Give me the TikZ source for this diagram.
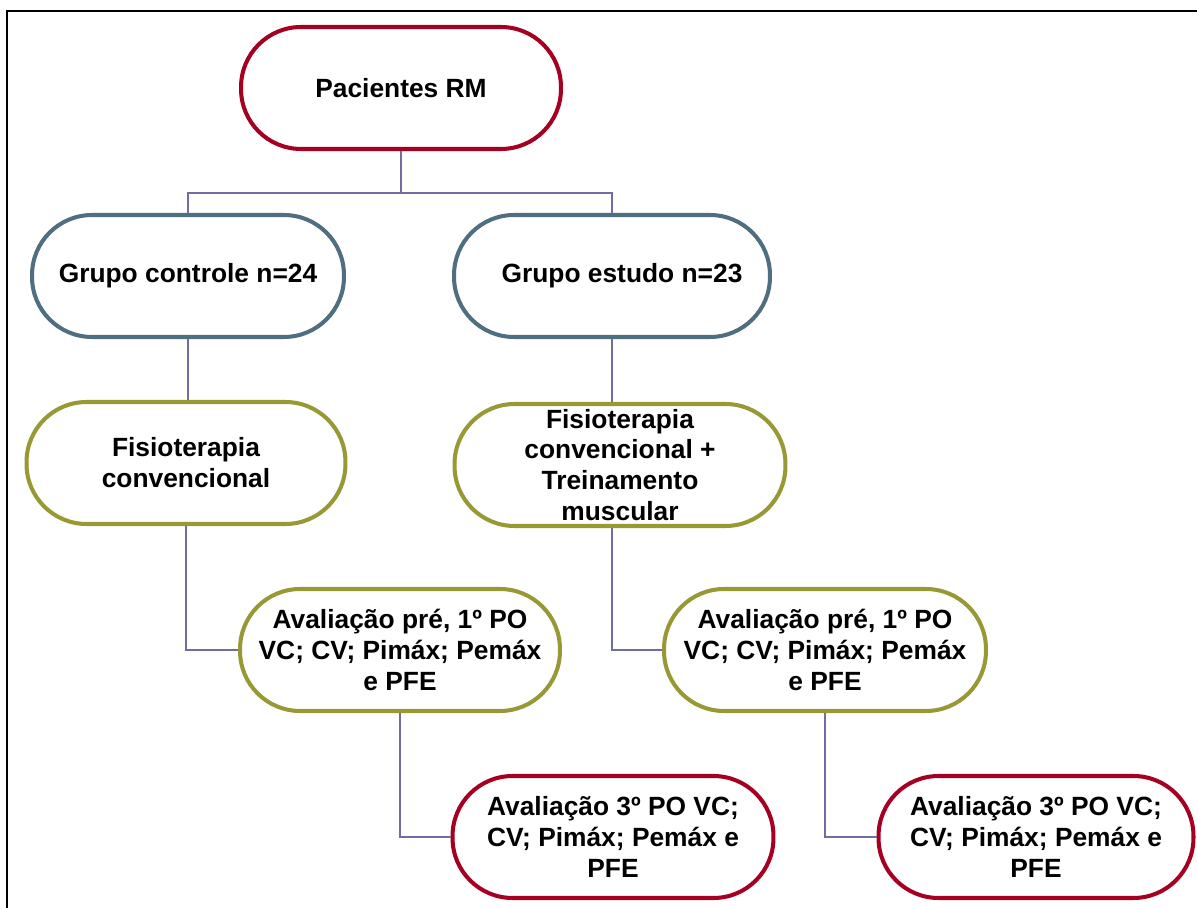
\documentclass[tikz,border=0pt]{standalone}
\usepackage{fontspec}
\setmainfont{Liberation Sans}
\definecolor{flowred}{RGB}{165,0,33}
\definecolor{flowsteel}{RGB}{79,110,128}
\definecolor{flowolive}{RGB}{152,152,52}
\definecolor{flowlink}{RGB}{112,110,160}

\begin{document}
\begin{tikzpicture}[
    x=0.02cm, y=-0.02cm,
    every node/.style={font=\bfseries\fontsize{15}{17.6}\selectfont},
    pill/.style={draw, fill=white, line width=2.3pt, rounded corners=1.2cm,
        minimum height=2.44cm, align=center, inner xsep=2pt, inner ysep=0pt},
    redpill/.style={pill, draw=flowred},
    steelpill/.style={pill, draw=flowsteel},
    olivepill/.style={pill, draw=flowolive},
    link/.style={draw=flowlink, line width=1.1pt}
]
\useasboundingbox (0,0) rectangle (1197,908);
% frame
\draw[line width=1.2pt] (7,930) -- (7,11) -- (1220,11);

% boxes
\node[redpill, minimum width=6.4cm] (pac) at (401,88) {Pacientes RM};
\node[steelpill, minimum width=6.24cm] (ctl) at (188,276) {Grupo controle n=24};
\node[steelpill, minimum width=6.32cm] (est) at (612,276) {\hspace{0.4cm}Grupo estudo n=23};
\node[olivepill, minimum width=6.38cm] (fisL) at (186,463) {Fisioterapia\\convencional};
\node[olivepill, minimum width=6.62cm] (fisR) at (620,465) {Fisioterapia\\convencional +\\Treinamento\\muscular};
\node[olivepill, minimum width=6.4cm] (avL) at (400,650) {Avaliação pré, 1º PO\\VC; CV; Pimáx; Pemáx\\e PFE};
\node[olivepill, minimum width=6.44cm] (avR) at (825,650) {Avaliação pré, 1º PO\\VC; CV; Pimáx; Pemáx\\e PFE};
\node[redpill, minimum width=6.42cm] (fimL) at (613,837) {Avaliação 3º PO VC;\\CV; Pimáx; Pemáx e\\PFE};
\node[redpill, minimum width=6.3cm] (fimR) at (1036,837) {Avaliação 3º PO VC;\\CV; Pimáx; Pemáx e\\PFE};

% connectors
\coordinate (split) at (401,193);
\draw[link] (pac.south) -- (split);
\draw[link] (split) -| (ctl.north);
\draw[link] (split) -| (est.north);
\draw[link] (ctl.south) -- (ctl.south |- fisL.north);
\draw[link] (est.south) -- (est.south |- fisR.north);
\draw[link] (fisL.south) |- (avL.west);
\draw[link] (est.south |- fisR.south) |- (avR.west);
\draw[link] (avL.south) |- (fimL.west);
\draw[link] (avR.south) |- (fimR.west);
\end{tikzpicture}
\end{document}
